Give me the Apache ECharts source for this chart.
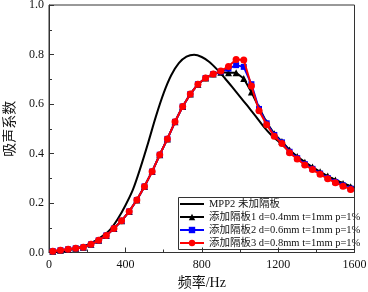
<!DOCTYPE html>
<html>
<head>
<meta charset="utf-8">
<script src="https://cdn.jsdelivr.net/npm/echarts@6/dist/echarts.min.js"></script>
<style>html,body{margin:0;padding:0;background:#fff;}#c{width:368px;height:292px;}</style>
</head>
<body>
<div id="c"></div>
<script>
// ---- data ----
const xTicks = [0, 400, 800, 1200, 1600];
const yTicks = [0.0, 0.2, 0.4, 0.6, 0.8, 1.0];
const seriesNames = ['MPP2 未加隔板', '添加隔板1 d=0.4mm t=1mm p=1%', '添加隔板2 d=0.6mm t=1mm p=1%', '添加隔板3 d=0.8mm t=1mm p=1%'];

// smooth reference curve (MPP2, no partition)
const curveFreq = [0,40,80,120,160,200,240,280,320,360,400,440,480,520,560,600,640,680,720,760,800,840,880,920,960,1000,1040,1080,1120,1160,1200,1240,1280,1320,1360,1400,1440,1480,1520,1560,1600];
const curveVals = [0.000,0.002,0.006,0.012,0.020,0.031,0.046,0.066,0.092,0.135,0.190,0.255,0.345,0.445,0.550,0.643,0.716,0.765,0.791,0.799,0.790,0.770,0.740,0.705,0.668,0.630,0.592,0.553,0.513,0.478,0.450,0.422,0.397,0.374,0.352,0.333,0.315,0.300,0.286,0.274,0.262];

// marker series frequencies
const markFreq = [20,60,100,140,180,220,260,300,340,380,420,460,500,540,580,620,660,700,740,780,820,860,900,940,980,1020,1060,1100,1140,1180,1220,1260,1300,1340,1380,1420,1460,1500,1540,1580];
const plate1 = [0.005,0.009,0.013,0.017,0.021,0.033,0.049,0.069,0.097,0.128,0.166,0.212,0.267,0.327,0.395,0.459,0.528,0.590,0.640,0.680,0.705,0.721,0.728,0.726,0.726,0.703,0.648,0.585,0.525,0.480,0.448,0.414,0.388,0.365,0.345,0.326,0.309,0.293,0.279,0.266];
const plate2 = [0.005,0.009,0.013,0.017,0.021,0.033,0.049,0.069,0.097,0.128,0.166,0.212,0.267,0.327,0.395,0.459,0.528,0.590,0.640,0.680,0.705,0.721,0.731,0.743,0.757,0.750,0.680,0.580,0.522,0.475,0.445,0.407,0.381,0.357,0.338,0.319,0.301,0.285,0.271,0.258];
const plate3 = [0.005,0.009,0.013,0.017,0.021,0.033,0.049,0.069,0.097,0.128,0.166,0.212,0.267,0.327,0.395,0.459,0.528,0.590,0.640,0.680,0.705,0.721,0.733,0.752,0.780,0.778,0.673,0.573,0.516,0.470,0.440,0.403,0.378,0.354,0.335,0.316,0.298,0.282,0.268,0.255];

// ---- chart ----
const FONT = '"Liberation Serif", "Noto Sans CJK SC", serif';
const pairs = (xs, ys) => xs.map((x, i) => [x, ys[i]]);
const chart = echarts.init(document.getElementById('c'), null, {renderer: 'canvas'});
const axisCommon = {
  axisLine: {show: true, lineStyle: {color: '#333', width: 1}},
  axisTick: {show: true, inside: true, length: 5, lineStyle: {color: '#333'}},
  minorTick: {show: true, splitNumber: 2, length: 3, lineStyle: {color: '#333'}},
  splitLine: {show: false},
  axisLabel: {color: '#111', fontFamily: FONT, fontSize: 12},
  nameTextStyle: {color: '#111', fontFamily: FONT, fontSize: 14}
};
chart.setOption({
  animation: false,
  backgroundColor: '#fff',
  grid: {left: 49, right: 13.5, top: 5, bottom: 39.5, show: true, borderColor: '#333', borderWidth: 1,
         containLabel: false, outerBoundsMode: 'none'},
  xAxis: Object.assign({}, axisCommon, {
    type: 'value', min: xTicks[0], max: xTicks[xTicks.length - 1], interval: xTicks[1] - xTicks[0],
    name: '频率/Hz', nameLocation: 'middle', nameGap: 24,
    axisLabel: Object.assign({}, axisCommon.axisLabel, {margin: 6, formatter: v => String(v)})
  }),
  yAxis: Object.assign({}, axisCommon, {
    type: 'value', min: yTicks[0], max: yTicks[yTicks.length - 1], interval: yTicks[1] - yTicks[0],
    name: '吸声系数', nameLocation: 'middle', nameGap: 32,
    axisLabel: Object.assign({}, axisCommon.axisLabel, {margin: 5, formatter: v => v.toFixed(1)})
  }),
  legend: {
    orient: 'vertical', left: 179, top: 197, padding: [1, 0, 0, 0],
    itemWidth: 24, itemHeight: 8, itemGap: 1,
    textStyle: {fontFamily: FONT, fontSize: 10.5, color: '#111', lineHeight: 12},
    data: [{name: seriesNames[0], itemStyle: {opacity: 0}}, seriesNames[1], seriesNames[2], seriesNames[3]]
  },
  graphic: [{type: 'rect', shape: {x: 178.5, y: 197.5, width: 176, height: 52}, style: {fill: 'none', stroke: '#333', lineWidth: 1}, z: 100}],
  series: [
    {name: seriesNames[0], type: 'line', data: pairs(curveFreq, curveVals), symbol: 'none', smooth: 0.3,
     lineStyle: {color: '#000', width: 2}, itemStyle: {color: '#000'}, z: 2},
    {name: seriesNames[1], type: 'line', data: pairs(markFreq, plate1), symbol: 'triangle', symbolSize: 7,
     lineStyle: {color: '#000', width: 2}, itemStyle: {color: '#000'}, z: 3},
    {name: seriesNames[2], type: 'line', data: pairs(markFreq, plate2), symbol: 'rect', symbolSize: 6,
     lineStyle: {color: '#0000ff', width: 2}, itemStyle: {color: '#0000ff'}, z: 4},
    {name: seriesNames[3], type: 'line', data: pairs(markFreq, plate3), symbol: 'circle', symbolSize: 7,
     lineStyle: {color: '#ff0000', width: 2}, itemStyle: {color: '#ff0000'}, z: 5}
  ]
});
</script>
</body>
</html>
